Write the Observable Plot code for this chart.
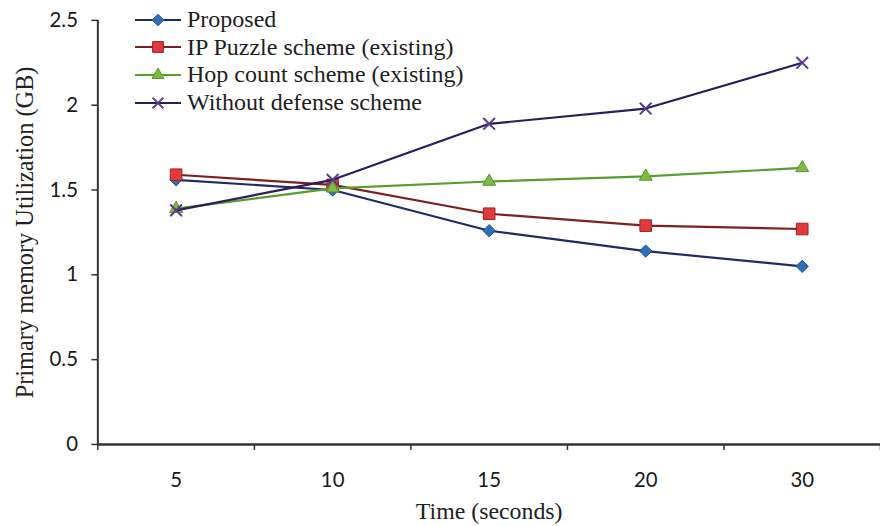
<!DOCTYPE html>
<html>
<head>
<meta charset="utf-8">
<script src="https://cdn.jsdelivr.net/npm/d3@7"></script>
<script src="https://cdn.jsdelivr.net/npm/@observablehq/plot@0.6"></script>
<style>
  body { margin: 0; background: #fff; }
  #chart { position: relative; width: 880px; height: 526px; overflow: hidden; }
  #legend { position: absolute; left: 133px; top: 6px; font-family: "Liberation Serif", "DejaVu Serif", serif; font-size: 24px; color: #1e1e1e; }
  .row { display: flex; align-items: center; height: 27.6px; white-space: nowrap; }
  .row svg { margin-right: 4px; flex: none; }
</style>
</head>
<body>
<div id="chart"><div id="legend"></div></div>
<script>
// Time points (categorical, evenly spaced) and memory utilization per scheme (GB)
const times = ["5", "10", "15", "20", "30"];
const proposed = [1.56, 1.50, 1.26, 1.14, 1.05];
const ipPuzzle = [1.59, 1.53, 1.36, 1.29, 1.27];
const hopCount = [1.39, 1.51, 1.55, 1.58, 1.63];
const withoutDefense = [1.38, 1.56, 1.89, 1.98, 2.25];
const seriesNames = ["Proposed", "IP Puzzle scheme (existing)", "Hop count scheme (existing)", "Without defense scheme"];
const yTicks = [0, 0.5, 1, 1.5, 2, 2.5];

const styles = [
  {line: "#1f2a6b", symbol: "diamond2", fill: "#2f6fb5", stroke: "#1d4f8c", r: 5.6},
  {line: "#7e2020", symbol: "square", fill: "#df3a3c", stroke: "#a02222", r: 6.6},
  {line: "#5a9c30", symbol: "triangle", fill: "#7dbb43", stroke: "#5a9030", r: 4.8},
  {line: "#2a1d5c", symbol: "times", fill: "none", stroke: "#5a3a8c", r: 5.4}
];

const values = [proposed, ipPuzzle, hopCount, withoutDefense];
const series = values.map((vals, s) =>
  vals.map((v, i) => ({pos: i + 0.5, time: times[i], value: v, series: seriesNames[s]}))
);

// category boundaries and centres on a continuous index axis
const boundaries = d3.range(times.length + 1);
const centres = times.map((_, i) => i + 0.5);

const sans = "Lato, 'Open Sans', sans-serif";
const serif = "'Liberation Serif', 'DejaVu Serif', serif";

const marks = [
  Plot.axisY(yTicks, {anchor: "left", tickSize: 6, tickPadding: 14, fontSize: 20.5, fontFamily: sans, color: "#1a1a1a", stroke: "#333", strokeWidth: 1.5, label: null, tickFormat: d => String(d)}),
  Plot.axisX(boundaries, {anchor: "bottom", tickSize: 6, tickFormat: () => "", stroke: "#333", strokeWidth: 1.5, label: null}),
  Plot.axisX(centres, {anchor: "bottom", tickSize: 0, tickPadding: 28, fontSize: 20.5, fontFamily: sans, color: "#1a1a1a", label: null, tickFormat: (d, i) => times[i]}),
  Plot.ruleX([0], {y1: 0, y2: 2.5, stroke: "#333", strokeWidth: 2}),
  Plot.ruleY([0], {stroke: "#333", strokeWidth: 2.5}),
  Plot.text(["Primary memory Utilization (GB)"], {frameAnchor: "left", rotate: -90, dx: -73, textAnchor: "middle", lineAnchor: "middle", fontSize: 24.5, fontFamily: serif, fill: "#222"}),
  Plot.text(["Time (seconds)"], {frameAnchor: "bottom", dy: 67, textAnchor: "middle", lineAnchor: "middle", fontSize: 24, fontFamily: serif, fill: "#222"})
];

series.forEach((data, s) => {
  const st = styles[s];
  marks.push(Plot.line(data, {x: "pos", y: "value", stroke: st.line, strokeWidth: 2.2}));
  marks.push(Plot.dot(data, {x: "pos", y: "value", symbol: st.symbol, r: st.r, fill: st.fill, stroke: st.stroke, strokeWidth: st.fill === "none" ? 2 : 1}));
});

const chart = Plot.plot({
  width: 886,
  height: 526,
  marginLeft: 98,
  marginRight: 0,
  marginTop: 20,
  marginBottom: 79,
  x: {type: "linear", domain: [0, times.length], axis: null},
  y: {domain: [0, 2.5], axis: null},
  style: {background: "#fff", overflow: "visible"},
  marks
});
document.getElementById("chart").prepend(chart);

// legend drawn with the same symbols as the plot
const symbolTypes = {diamond2: d3.symbolDiamond2, square: d3.symbolSquare, triangle: d3.symbolTriangle, times: d3.symbolTimes};
const legend = d3.select("#legend");
seriesNames.forEach((name, s) => {
  const st = styles[s];
  const row = legend.append("div").attr("class", "row");
  const svg = row.append("svg").attr("width", 50).attr("height", 16);
  svg.append("line").attr("x1", 2).attr("x2", 48).attr("y1", 8).attr("y2", 8).attr("stroke", st.line).attr("stroke-width", 2.2);
  svg.append("path")
    .attr("transform", "translate(25,8)")
    .attr("d", d3.symbol(symbolTypes[st.symbol], Math.PI * st.r * st.r * 0.85)())
    .attr("fill", st.fill).attr("stroke", st.stroke).attr("stroke-width", st.fill === "none" ? 2 : 1);
  row.append("span").text(name);
});
</script>
</body>
</html>
